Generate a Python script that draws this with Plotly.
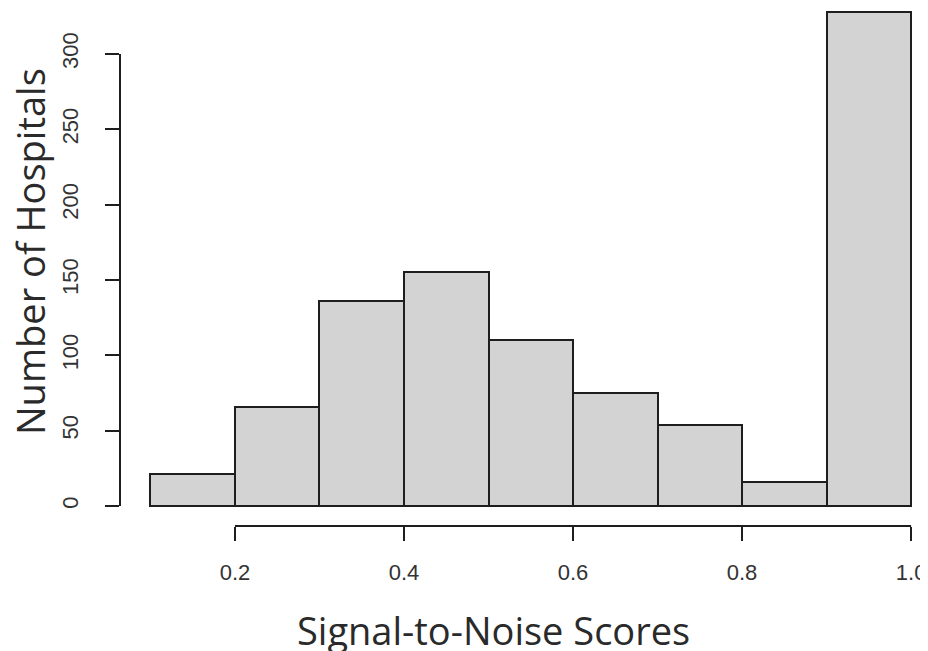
import plotly.graph_objects as go

bin_starts = [0.1, 0.2, 0.3, 0.4, 0.5, 0.6, 0.7, 0.8, 0.9]
bin_width = 0.1
counts = [21, 66, 136, 155, 110, 75, 54, 16, 328]
x_ticks = [0.2, 0.4, 0.6, 0.8, 1.0]
x_tick_labels = ["0.2", "0.4", "0.6", "0.8", "1.0"]
y_ticks = [0, 50, 100, 150, 200, 250, 300]
x_title = "Signal-to-Noise Scores"
y_title = "Number of Hospitals"

centers = [s + bin_width / 2 for s in bin_starts]

# figure is placed at (8, 8) in the page by the default body margin
W, H = 920, 643
L, B = 112, 125
PW, PH = W - L, H - B

fig = go.Figure()
fig.add_trace(go.Bar(
    x=centers, y=counts, width=[bin_width] * len(counts),
    marker=dict(color="#d3d3d3", line=dict(color="#1e1e1e", width=2)),
    hoverinfo="x+y", showlegend=False,
))

axis_color = "#1e1e1e"
tick_font = dict(family="Liberation Sans, Arial, sans-serif", size=22, color="#333333")
title_font = dict(family="Open Sans, Noto Sans, sans-serif", size=38, color="#2a2a2a")

fig.update_layout(
    width=W, height=H,
    margin=dict(l=L, r=0, t=0, b=B, pad=0),
    paper_bgcolor="white", plot_bgcolor="white",
    bargap=0,
    xaxis=dict(
        range=[0.064, 1.020], showgrid=False, zeroline=False, showline=False,
        tickmode="array", tickvals=x_ticks, ticktext=x_tick_labels,
        ticks="outside", ticklen=14, tickwidth=2, tickcolor=axis_color,
        tickfont=tick_font, ticklabelstandoff=13,
    ),
    yaxis=dict(
        range=[-13.3, 330.5], showgrid=False, zeroline=False, showline=False,
        tickmode="array", tickvals=y_ticks,
        ticks="outside", ticklen=14, tickwidth=2, tickcolor=axis_color,
        tickfont=tick_font, tickangle=-90, ticklabelstandoff=18,
    ),
    shapes=[
        dict(type="line", xref="x", yref="paper", x0=x_ticks[0], x1=x_ticks[-1], y0=0, y1=0,
             line=dict(color=axis_color, width=2)),
        dict(type="line", xref="paper", yref="y", x0=0, x1=0, y0=y_ticks[0], y1=y_ticks[-1],
             line=dict(color=axis_color, width=2)),
    ],
    annotations=[
        dict(text=x_title, xref="paper", yref="paper", x=(485 - L) / PW, y=(PH - 622) / PH,
             xanchor="center", yanchor="middle", showarrow=False, font=title_font),
        dict(text=y_title, xref="paper", yref="paper", x=(22 - L) / PW, y=(PH - 244) / PH,
             xanchor="center", yanchor="middle", showarrow=False, textangle=-90, font=title_font),
    ],
)

fig.write_html("out.html")
